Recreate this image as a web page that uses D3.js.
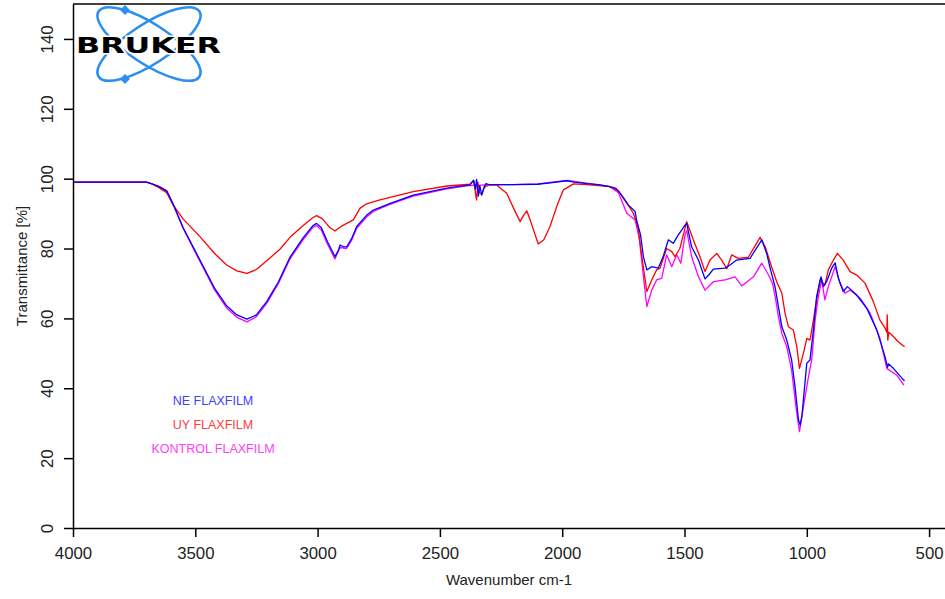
<!DOCTYPE html>
<html>
<head>
<meta charset="utf-8">
<script src="https://cdn.jsdelivr.net/npm/d3@7"></script>
<style>
    body { margin: 0; background: #fff; }
    svg { display: block; font-family: "Liberation Sans", Arial, sans-serif; }
    .axis path, .axis line { stroke: #000; stroke-width: 1.5; }
    .axis text { font-size: 16.8px; fill: #222; }
    .spectrum { fill: none; stroke-width: 1.3; stroke-linejoin: round; }
    .legend text { font-size: 12.5px; text-anchor: middle; }
    .axisTitle { font-size: 15px; fill: #222; text-anchor: middle; }
</style>
</head>
<body>
<script>
'use strict';

// [wavenumber cm-1, transmittance %]
const neFlaxfilm = [
    [4000, 99.0], [3700, 99.0], [3680, 98.6], [3650, 97.8], [3617, 96.5], [3591, 92.8], [3550, 86.0],
    [3481, 76.7], [3420, 68.5], [3372, 63.6], [3330, 61.0], [3289, 59.8], [3250, 61.0], [3208, 64.8],
    [3160, 70.5], [3113, 77.5], [3060, 83.0], [3020, 86.5], [3004, 87.2], [2985, 86.0], [2960, 82.0],
    [2929, 77.7], [2915, 79.5], [2908, 81.0], [2895, 80.5], [2881, 80.5], [2860, 83.0], [2840, 86.3],
    [2800, 89.5], [2772, 91.0], [2700, 93.0], [2609, 95.3], [2472, 97.3], [2400, 98.0], [2377, 98.2],
    [2362, 99.5], [2355, 97.0], [2350, 99.8], [2343, 95.0], [2337, 98.0], [2329, 95.3], [2320, 97.5],
    [2312, 98.6], [2300, 98.3], [2200, 98.3], [2100, 98.4], [2050, 98.8], [1981, 99.4], [1950, 99.0],
    [1900, 98.6], [1850, 98.3], [1805, 97.7], [1780, 97.2], [1757, 95.3], [1730, 92.5], [1702, 90.6],
    [1696, 88.2], [1680, 84.0], [1668, 77.7], [1654, 73.9], [1634, 74.8], [1607, 74.4], [1587, 77.7],
    [1566, 82.5], [1546, 81.5], [1525, 83.9], [1498, 86.7], [1491, 87.2], [1471, 80.5], [1443, 76.7],
    [1416, 71.3], [1400, 72.5], [1382, 74.1], [1334, 74.4], [1314, 75.3], [1287, 76.7], [1232, 77.2],
    [1184, 82.5], [1164, 78.6], [1150, 74.4], [1130, 69.1], [1116, 63.4], [1102, 57.6], [1082, 53.8],
    [1062, 48.1], [1048, 40.4], [1034, 30.9], [1027, 29.5], [1020, 32.0], [1014, 36.6], [1000, 47.2],
    [987, 48.1], [973, 56.7], [960, 66.2], [942, 71.9], [932, 69.1], [919, 70.5], [898, 74.4],
    [884, 75.9], [871, 71.5], [851, 67.7], [834, 69.1], [796, 66.7], [755, 62.9], [714, 56.7],
    [680, 49.0], [670, 46.0], [667, 47.0], [646, 45.7], [605, 42.4], [600, 42.2]
];

const uyFlaxfilm = [
    [4000, 99.0], [3700, 99.0], [3680, 98.6], [3650, 97.5], [3617, 96.0], [3591, 92.5], [3550, 88.5],
    [3481, 83.4], [3420, 78.5], [3372, 75.3], [3330, 73.6], [3289, 72.9], [3250, 74.0], [3208, 76.5],
    [3154, 79.8], [3113, 83.2], [3060, 86.5], [3020, 88.8], [3004, 89.4], [2980, 88.5], [2950, 86.0],
    [2929, 85.0], [2900, 86.5], [2854, 88.2], [2827, 91.5], [2800, 92.8], [2745, 93.9], [2609, 96.3],
    [2472, 97.9], [2377, 98.4], [2362, 99.6], [2355, 96.0], [2350, 93.9], [2345, 99.0], [2338, 96.0],
    [2329, 95.5], [2318, 97.5], [2300, 98.2], [2268, 98.2], [2227, 95.8], [2195, 91.0], [2172, 87.7],
    [2158, 89.5], [2145, 90.8], [2130, 88.0], [2098, 81.3], [2075, 82.5], [2050, 86.3], [2020, 92.5],
    [1995, 96.8], [1954, 98.5], [1900, 98.3], [1805, 97.7], [1770, 96.5], [1736, 93.0], [1709, 90.1],
    [1690, 86.0], [1675, 78.0], [1654, 67.7], [1634, 71.0], [1614, 73.9], [1600, 74.4], [1573, 80.0],
    [1552, 79.1], [1539, 77.7], [1519, 80.0], [1491, 87.7], [1464, 82.5], [1437, 77.7], [1416, 73.4],
    [1396, 76.7], [1368, 78.6], [1348, 76.7], [1327, 74.2], [1307, 78.2], [1280, 77.2], [1239, 77.5],
    [1191, 83.2], [1170, 80.5], [1144, 74.8], [1123, 70.5], [1102, 67.2], [1089, 61.5], [1075, 57.6],
    [1055, 56.7], [1041, 51.9], [1030, 45.7], [1014, 50.0], [1000, 54.3], [987, 53.8], [973, 59.5],
    [960, 65.3], [946, 71.0], [926, 69.6], [912, 73.9], [891, 76.7], [875, 78.6], [851, 76.7],
    [823, 73.4], [796, 72.4], [762, 70.1], [728, 64.8], [701, 59.5], [680, 57.2], [673, 56.0],
    [671, 61.0], [669, 53.8], [665, 56.0], [653, 55.3], [626, 53.3], [605, 52.1], [600, 52.0]
];

const kontrolFlaxfilm = [
    [4000, 99.0], [3700, 99.0], [3680, 98.6], [3650, 97.8], [3617, 96.5], [3591, 92.6], [3550, 85.8],
    [3481, 76.3], [3420, 68.0], [3372, 63.0], [3330, 60.3], [3289, 59.0], [3250, 60.5], [3208, 64.3],
    [3160, 70.0], [3113, 77.0], [3060, 82.5], [3020, 86.0], [3004, 86.6], [2985, 85.3], [2960, 81.3],
    [2929, 77.0], [2908, 80.3], [2881, 80.0], [2860, 82.5], [2840, 85.8], [2800, 89.0], [2772, 90.6],
    [2700, 92.8], [2609, 95.0], [2472, 97.1], [2377, 98.1], [2300, 98.2], [2200, 98.3], [2100, 98.5],
    [2050, 98.9], [1981, 99.5], [1900, 98.7], [1805, 97.7], [1770, 96.0], [1736, 90.1], [1702, 88.2],
    [1685, 83.0], [1668, 72.0], [1654, 63.4], [1634, 68.1], [1614, 71.0], [1593, 71.5], [1573, 78.2],
    [1552, 74.8], [1532, 78.2], [1515, 75.8], [1498, 83.9], [1491, 85.2], [1471, 77.7], [1443, 71.9],
    [1416, 68.1], [1382, 70.5], [1334, 71.0], [1293, 71.9], [1266, 69.3], [1218, 71.9], [1184, 75.8],
    [1157, 72.5], [1140, 70.0], [1130, 66.5], [1116, 60.5], [1102, 55.7], [1082, 51.9], [1062, 45.2],
    [1041, 32.8], [1030, 27.6], [1014, 34.7], [993, 43.3], [980, 48.1], [966, 59.5], [953, 66.2],
    [939, 71.0], [926, 65.3], [912, 69.1], [884, 74.8], [864, 70.1], [844, 67.2], [823, 68.1],
    [782, 65.8], [741, 61.5], [701, 54.3], [673, 45.7], [633, 43.8], [603, 40.9]
];

const seriesNames = ['NE FLAXFILM', 'UY FLAXFILM', 'KONTROL FLAXFILM'];
const xTicks = [4000, 3500, 3000, 2500, 2000, 1500, 1000, 500];
const yTicks = [0, 20, 40, 60, 80, 100, 120, 140];

(function () {

    const colors = {
        'NE FLAXFILM': '#0000ff',
        'UY FLAXFILM': '#ff0000',
        'KONTROL FLAXFILM': '#ff00ff'
    };
    const legendColors = {
        'NE FLAXFILM': '#4040ff',
        'UY FLAXFILM': '#ff3c3c',
        'KONTROL FLAXFILM': '#ff3cff'
    };

    function getPlotArea() {
        const plot = {
            svg: { width: 945, height: 599 },
            padding: { top: 4, right: 0, bottom: 71, left: 73 }
        };
        plot.range = {
            x: plot.svg.width - plot.padding.left - plot.padding.right,
            y: plot.svg.height - plot.padding.top - plot.padding.bottom
        };
        return plot;
    }

    function makeScales(plot) {
        return {
            // spectrum axis runs high to low; frame goes a little past 500
            x: d3.scaleLinear().domain([4000, 435]).range([0, plot.range.x]),
            y: d3.scaleLinear().domain([0, 150]).range([plot.range.y, 0])
        };
    }

    function appendFrame(g, plot) {
        g.append('line')
            .attr('x1', 0).attr('x2', plot.range.x)
            .attr('y1', 0).attr('y2', 0)
            .attr('stroke', '#000').attr('stroke-width', 1.5);
    }

    function appendXAxis(g, scales, plot) {
        const axis = d3.axisBottom(scales.x).tickValues(xTicks).tickSize(9).tickPadding(10)
            .tickSizeOuter(0).tickFormat(d3.format('d'));
        g.append('g')
            .attr('class', 'axis')
            .attr('transform', 'translate(0,' + plot.range.y + ')')
            .call(axis);
    }

    function appendYAxis(g, scales) {
        const axis = d3.axisLeft(scales.y).tickValues(yTicks).tickSize(9).tickSizeOuter(0);
        const yg = g.append('g').attr('class', 'axis').call(axis);
        yg.selectAll('.tick text')
            .attr('x', 0).attr('dy', 0)
            .attr('transform', 'translate(-26,0) rotate(-90)')
            .attr('text-anchor', 'middle')
            .attr('dominant-baseline', 'central');
    }

    function appendSpectra(g, scales) {
        const line = d3.line()
            .x((d) => scales.x(d[0]))
            .y((d) => scales.y(d[1]));
        const data = [
            { name: 'KONTROL FLAXFILM', values: kontrolFlaxfilm },
            { name: 'UY FLAXFILM', values: uyFlaxfilm },
            { name: 'NE FLAXFILM', values: neFlaxfilm }
        ];
        g.append('g')
            .selectAll('path')
            .data(data)
            .enter()
            .append('path')
            .attr('class', 'spectrum')
            .attr('stroke', (d) => colors[d.name])
            .attr('d', (d) => line(d.values));
    }

    function appendLegend(svg) {
        svg.append('g')
            .attr('class', 'legend')
            .selectAll('text')
            .data(seriesNames)
            .enter()
            .append('text')
            .attr('x', 213)
            .attr('y', (d, i) => 404.5 + i * 24)
            .attr('fill', (d) => legendColors[d])
            .text((d) => d);
    }

    /**
     * Bruker logo: two crossed orbits with the name on top.
     */
    function appendLogo(svg) {
        const logo = svg.append('g').attr('transform', 'translate(149,44)');
        [33, -33].forEach(function (angle) {
            logo.append('ellipse')
                .attr('rx', 60).attr('ry', 20)
                .attr('transform', 'rotate(' + angle + ')')
                .attr('fill', 'none')
                .attr('stroke', '#2a8ff0')
                .attr('stroke-width', 2.6);
        });
        [[-24, -34], [-24, 35]].forEach(function (p) {
            logo.append('rect')
                .attr('x', p[0] - 3.5).attr('y', p[1] - 3.5)
                .attr('width', 7).attr('height', 7)
                .attr('transform', 'rotate(45,' + p[0] + ',' + p[1] + ')')
                .attr('fill', '#2a8ff0');
        });
        logo.append('text')
            .attr('x', -73).attr('y', 9)
            .attr('textLength', 145)
            .attr('lengthAdjust', 'spacingAndGlyphs')
            .attr('font-family', '"DejaVu Sans", sans-serif')
            .attr('font-weight', 'bold')
            .attr('font-size', 22)
            .attr('fill', '#000')
            .attr('stroke', '#fff')
            .attr('stroke-width', 3)
            .attr('paint-order', 'stroke')
            .text('BRUKER');
    }

    function appendAxisTitles(svg, plot) {
        svg.append('text')
            .attr('class', 'axisTitle')
            .attr('transform', 'translate(21,' + (plot.padding.top + plot.range.y / 2) + ') rotate(-90)')
            .attr('dominant-baseline', 'central')
            .text('Transmittance [%]');
        svg.append('text')
            .attr('class', 'axisTitle')
            .attr('x', plot.padding.left + plot.range.x / 2)
            .attr('y', 585)
            .text('Wavenumber cm-1');
    }

    function draw() {
        const plot = getPlotArea();
        const svg = d3.select('body').append('svg')
            .attr('width', plot.svg.width)
            .attr('height', plot.svg.height);
        const g = svg.append('g')
            .attr('transform', 'translate(' + plot.padding.left + ',' + plot.padding.top + ')');
        const scales = makeScales(plot);
        appendFrame(g, plot);
        appendSpectra(g, scales);
        appendXAxis(g, scales, plot);
        appendYAxis(g, scales);
        appendLogo(svg);
        appendLegend(svg);
        appendAxisTitles(svg, plot);
    }

    window.onload = draw;

})();
</script>
</body>
</html>
